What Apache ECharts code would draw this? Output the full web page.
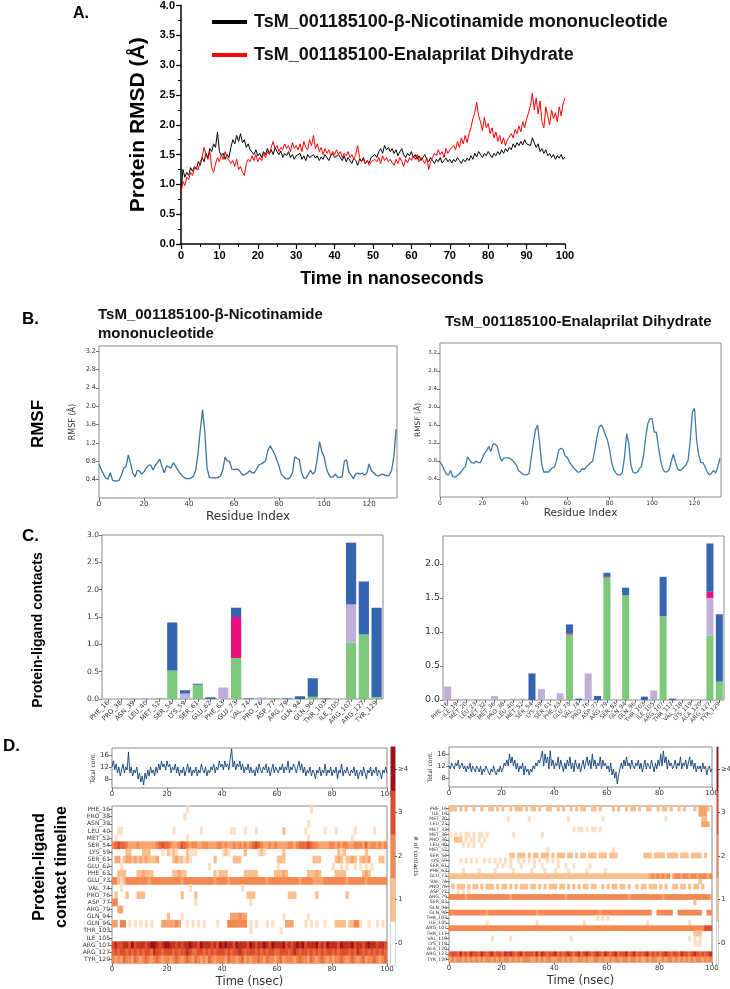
<!DOCTYPE html>
<html><head><meta charset="utf-8">
<script src="https://cdn.jsdelivr.net/npm/echarts@6.0.0/dist/echarts.min.js"></script>
<style>html,body{margin:0;padding:0;background:#fff}#c{width:730px;height:989px}</style>
</head><body><div id="c"></div>
<script>
// ---------- Panel A: protein RMSD (0.5 ns sampling) ----------
const rmsdStepNs = 0.5;
const rmsdNMN = [0.85,1.25,1.12,1.2,1.15,1.28,1.22,1.3,1.25,1.38,1.32,
1.45,1.38,1.52,1.45,1.6,1.55,1.68,1.62,1.88,1.55,
1.48,1.52,1.42,1.5,1.45,1.62,1.75,1.68,1.82,1.72,
1.85,1.7,1.75,1.62,1.68,1.58,1.55,1.5,1.58,1.48,
1.52,1.45,1.55,1.5,1.6,1.52,1.58,1.5,1.62,1.55,
1.5,1.56,1.45,1.52,1.48,1.55,1.45,1.5,1.42,1.48,
1.45,1.52,1.42,1.48,1.4,1.5,1.45,1.42,1.5,1.44,
1.48,1.4,1.46,1.42,1.5,1.45,1.4,1.48,1.52,1.45,
1.42,1.5,1.45,1.4,1.48,1.38,1.45,1.42,1.35,1.44,
1.4,1.32,1.42,1.38,1.45,1.35,1.4,1.36,1.45,1.42,
1.5,1.45,1.55,1.6,1.52,1.65,1.58,1.62,1.55,1.6,
1.52,1.58,1.48,1.55,1.6,1.5,1.45,1.52,1.48,1.55,
1.45,1.5,1.42,1.48,1.4,1.45,1.5,1.42,1.38,1.45,
1.4,1.35,1.42,1.38,1.45,1.36,1.4,1.44,1.38,1.42,
1.36,1.42,1.38,1.45,1.4,1.35,1.42,1.38,1.44,1.4,
1.48,1.42,1.52,1.46,1.55,1.5,1.45,1.52,1.48,1.55,
1.5,1.45,1.52,1.48,1.55,1.5,1.58,1.52,1.6,1.55,
1.62,1.58,1.68,1.62,1.7,1.65,1.72,1.66,1.75,1.68,
1.7,1.65,1.78,1.7,1.62,1.68,1.55,1.6,1.52,1.58,
1.48,1.52,1.45,1.5,1.42,1.48,1.44,1.5,1.42,1.46];
const rmsdENA = [0.85,1.05,0.98,1.12,1.08,1.2,1.15,1.28,1.3,1.25,1.38,
1.45,1.62,1.5,1.42,1.55,1.28,1.2,1.35,1.45,1.38,
1.5,1.42,1.55,1.45,1.48,1.35,1.4,1.3,1.42,1.25,
1.3,1.2,1.15,1.35,1.42,1.38,1.48,1.4,1.5,1.38,
1.45,1.4,1.52,1.45,1.55,1.5,1.62,1.72,1.6,1.65,
1.55,1.62,1.58,1.68,1.6,1.65,1.55,1.7,1.6,1.65,
1.58,1.68,1.55,1.72,1.62,1.58,1.75,1.65,1.82,1.6,
1.68,1.55,1.62,1.5,1.6,1.52,1.58,1.48,1.55,1.5,
1.58,1.5,1.55,1.45,1.52,1.48,1.55,1.45,1.5,1.42,
1.5,1.65,1.45,1.38,1.42,1.35,1.4,1.32,1.38,1.35,
1.42,1.38,1.45,1.35,1.48,1.4,1.45,1.38,1.42,1.36,
1.32,1.42,1.35,1.45,1.38,1.3,1.42,1.36,1.45,1.4,
1.48,1.42,1.5,1.38,1.45,1.4,1.35,1.45,1.25,1.38,
1.45,1.52,1.48,1.58,1.5,1.55,1.45,1.6,1.52,1.58,
1.55,1.65,1.58,1.72,1.62,1.78,1.68,1.82,1.7,1.85,
1.95,2.1,2.2,2.38,2.15,2.05,1.9,2.12,1.95,2.02,
1.85,1.95,1.78,1.88,1.72,1.82,1.68,1.78,1.65,1.75,
1.72,1.85,1.78,1.92,1.85,1.98,1.88,2.05,1.95,2.1,
2.2,2.32,2.53,2.25,2.45,2.18,2.4,2.05,1.95,2.3,
2.15,2.0,2.25,2.1,2.2,2.05,2.3,2.15,2.35,2.45];
const legendNames = ['TsM_001185100-β-Nicotinamide mononucleotide','TsM_001185100-Enalaprilat Dihydrate'];

// ---------- Panel B: RMSF per residue ----------
const rmsfNMN = [0.74,0.62,0.52,0.43,0.41,0.55,0.39,0.37,0.37,0.39,
0.5,0.65,0.68,0.94,0.76,0.54,0.46,0.6,0.59,0.52,
0.57,0.65,0.71,0.72,0.61,0.71,0.77,0.85,0.68,0.55,
0.7,0.68,0.65,0.77,0.7,0.61,0.54,0.48,0.44,0.42,
0.42,0.44,0.48,0.61,0.97,1.48,1.92,1.45,0.65,0.45,
0.44,0.44,0.44,0.45,0.48,0.61,0.89,0.81,0.8,0.63,
0.62,0.63,0.62,0.55,0.5,0.52,0.55,0.6,0.55,0.55,
0.63,0.72,0.74,0.77,0.81,1.03,1.14,1.05,0.96,0.83,
0.69,0.52,0.46,0.42,0.41,0.45,0.55,0.9,0.86,0.83,
0.55,0.43,0.44,0.52,0.6,0.52,0.57,0.87,1.23,1.01,
0.9,0.65,0.52,0.45,0.46,0.52,0.45,0.45,0.46,0.8,
0.83,0.57,0.5,0.42,0.52,0.54,0.52,0.54,0.5,0.54,
0.74,0.6,0.55,0.5,0.48,0.5,0.52,0.5,0.48,0.5,
0.6,0.9,1.5];
const rmsfENA = [0.78,0.71,0.6,0.51,0.49,0.59,0.45,0.44,0.47,0.51,
0.56,0.63,0.68,0.89,0.82,0.76,0.75,0.8,0.77,0.76,
0.86,0.97,1.03,1.12,1.01,1.18,1.17,1.12,0.93,0.8,
0.86,0.87,0.87,0.86,0.82,0.77,0.71,0.59,0.55,0.51,
0.49,0.49,0.53,0.86,1.19,1.49,1.6,1.19,0.71,0.55,
0.56,0.55,0.6,0.65,0.67,0.82,1.04,1.08,1.06,0.91,
0.88,0.78,0.71,0.65,0.6,0.55,0.56,0.63,0.61,0.67,
0.71,0.76,0.8,1.04,1.33,1.55,1.6,1.52,1.37,1.26,
1.04,0.75,0.6,0.53,0.49,0.49,0.56,0.89,1.41,1.19,
0.71,0.55,0.53,0.55,0.63,0.68,0.93,1.33,1.63,1.74,
1.74,1.44,1.44,1.12,0.82,0.63,0.56,0.56,0.6,0.78,
0.95,0.78,0.63,0.59,0.61,0.67,0.71,0.82,1.26,1.89,
1.97,1.26,0.93,0.77,0.76,0.67,0.56,0.49,0.53,0.59,
0.53,0.67,0.86];

// ---------- Panel C: protein-ligand contacts ----------
const residuesNMN = ['PHE_16','PRO_38','ASN_39','LEU_40','MET_52','SER_54','LYS_59','SER_61','GLU_62','PHE_63','GLU_73','VAL_74','PRO_76','ASP_77','ARG_79','GLN_94','GLN_96','THR_103','ILE_105','ARG_107','ARG_127','TYR_129'];
const hbondNMN       = [0,0,0,0,0.02,0.52,0,0.26,0,0,0.75,0,0,0.02,0,0,0.04,0,0,1.03,1.18,0.03];
const hydrophobicNMN = [0,0,0,0.02,0,0,0.10,0,0,0.21,0,0,0.03,0,0,0,0,0,0,0.70,0,0];
const ionicNMN       = [0,0,0,0,0,0,0,0,0,0,0.75,0,0,0,0,0,0,0,0,0,0,0];
const waterNMN       = [0,0,0,0,0,0.88,0.06,0.02,0.03,0,0.17,0.01,0,0,0.01,0.05,0.34,0.01,0,1.13,0.97,1.64];

const residuesENA = ['PHE_16','ILE_19','MET_20','LEU_23','MET_32','MET_36','PRO_38','LEU_40','MET_52','SER_54','LYS_59','SER_61','PHE_63','GLU_73','VAL_74','PRO_76','ASP_77','ARG_79','SER_83','GLN_94','GLN_96','THR_103','ILE_105','ARG_107','THR_117','VAL_118','LYS_119','ALA_120','ARG_127','TYR_129'];
const hbondENA       = [0,0,0,0,0,0,0,0,0,0,0,0,0,0.96,0,0,0,1.80,0,1.54,0,0,0,1.23,0,0,0,0,0.95,0.27];
const hydrophobicENA = [0.20,0.01,0.01,0.01,0,0.06,0,0.02,0.02,0,0.16,0,0.10,0,0,0.39,0,0,0,0,0,0,0.14,0,0,0.01,0,0,0.55,0];
const ionicENA       = [0,0,0,0,0,0,0,0,0,0,0,0,0,0.02,0,0,0,0.01,0,0,0,0,0,0,0,0,0,0,0.09,0];
const waterENA       = [0,0,0,0,0,0,0,0,0,0.39,0,0,0,0.13,0.02,0,0.06,0.06,0,0.11,0,0.05,0,0.58,0.02,0,0,0,0.71,0.99];

// ---------- Panel D: total contacts (0.5 ns sampling) ----------
const totalNMN = [12,14,11,13,10,12,9,11,13,10,12,
11,17,10,12,9,11,10,12,8,10,
7,9,6,10,8,11,9,12,10,11,
9,12,10,13,11,14,12,13,11,14,
12,13,10,12,11,13,10,12,9,11,
10,12,9,11,13,10,12,9,11,10,
12,9,11,10,13,11,10,12,9,11,
10,12,11,13,10,12,11,14,12,13,
11,14,12,13,11,15,18,12,14,11,
13,12,14,11,13,10,12,11,13,10,
12,10,11,9,12,10,13,11,10,12,
11,13,10,12,9,11,13,10,12,11,
10,12,11,13,10,12,11,14,10,12,
11,13,12,10,12,14,11,13,10,12,
9,11,10,12,9,11,10,8,11,10,
12,9,11,10,13,9,11,10,12,9,
11,10,12,8,11,10,13,9,11,10,
12,10,9,11,10,12,9,11,8,10,
11,9,12,10,8,11,10,12,9,11,
10,12,9,11,10,8,11,10,12,10];
const totalENA = [12,11,13,12,11,13,12,14,11,12,13,
11,12,10,12,11,13,10,12,11,10,
12,11,10,12,9,11,10,12,11,10,
9,11,10,12,10,9,11,10,12,10,
11,13,12,14,12,16,13,15,12,14,
11,13,10,12,11,13,9,12,10,11,
9,11,10,12,11,13,12,14,13,15,
17,12,16,13,15,11,17,12,14,11,
13,12,15,11,14,12,10,13,11,14,
12,15,11,13,10,14,12,11,13,10,
12,14,11,13,15,12,14,11,16,12,
14,11,13,12,15,11,14,12,13,11,
12,10,13,9,11,8,10,6,9,11,
13,11,14,12,15,12,13,11,14,12,
11,13,12,14,11,13,10,12,14,11,
13,12,11,14,12,10,13,11,14,12,
16,12,17,13,15,11,14,12,13,11,
12,14,11,13,12,15,11,13,12,14,
11,13,15,12,14,11,13,10,12,11,
12,10,13,11,12,9,11,12,10,11];

// Contact timeline: one char per 1 ns bin, digit = 2 x number of contacts
const timelineNMN = [
"0000000000 0000000000 0000000100 0000000000 0000000000 0000000000 0000000000 0010000000 0000000000 0000000000",
"0000000000 0000000000 0000001000 0000000000 0000000000 0000000000 0000000000 0000000000 0000000000 0000000000",
"0000000000 0000000000 0000000000 0000000000 0000000000 0000000000 0000000000 0100000000 0000000000 0000000000",
"0011000000 0000000000 0010000000 0010000000 0001100010 0010000000 0020000000 1000000100 0100000010 0000010000",
"0100000000 0000000000 0000000100 0000000000 0000000000 0000000000 0000000000 0100000000 0000000100 0000000000",
"4565543334 3333334565 5433465434 4334433344 3433434343 4565433434 3333443455 5654433334 4343443344 4353443434",
"0000022000 0222000010 2121000211 1000000000 1210000020 0001210000 0020000000 0000000000 0021200000 0020000000",
"0330233232 3232223000 0023221210 0000000200 0000222000 0000000000 2220000000 0002220000 0232022320 2323000220",
"0001000000 0000000000 0000000000 0000010000 0000000000 0000000000 1000000000 0000000000 1001010010 1010100000",
"0022200002 2322200000 0022322000 0000000212 2200000022 2220000002 2232000000 0222320000 0222200000 0232000000",
"4421244444 4443444444 4444434444 4444444344 4434444444 4444443444 4444444434 4443333444 4444434444 4434444444",
"0001000000 0000000000 0000000010 0000000000 0000000100 0000000000 0000000000 0000000000 0000000000 0000000000",
"0200020002 2200000000 0000020000 2000000000 0000000002 2200000000 0000222000 0000200000 0000020000 0000000000",
"4400000000 0000000000 0000000000 1000000000 0000000000 1000000000 0000000000 0000000000 0000000000 0000000000",
"0033000000 0000000000 0000000000 0000000000 0000000000 0000000000 0000000000 0000000000 0000000000 0000000000",
"0000000000 0000000000 2000010000 0000000000 0003334330 0000000000 0010000000 0100000000 0000000000 0000000000",
"3304401010 1010100033 3334300101 0101000010 0044444440 1010001010 0003330000 1010100100 0222202244 1001001010",
"0000000000 0000000000 0000000000 0000000000 0000000000 1000000000 0100000000 0000000000 0000000000 0000000000",
"0000000000 0000000000 0000000000 0000000000 0000000000 0000000000 0000000000 0000000000 0000000000 0000000000",
"6766776867 7767887678 8776767787 7687776768 7877687776 8767787687 7786767878 6777867687 7768777867 7678776776",
"5656656565 6566576656 6656566765 5665656566 6565667656 6656565665 5666567656 6565656566 5656665657 6565656565",
"4343544354 3454345434 4345434543 5434354344 4354434534 3445435443 4534443454 4354345434 3445434543 4534454345"
];
const timelineENA = [
"2220202002 0020022020 2002022202 0220200220 0202002020 2200220200 0020200202 2020022002 0220200202 0002033320",
"0000000000 0000000000 0000000000 0000000000 0000000000 0000000000 0000000000 0000000000 0000000000 0000033300",
"0000000000 0000000000 0010000000 1000000000 0000010000 0000000010 0000000000 0000000000 0010000000 0000002200",
"0000000000 0000000000 0000000000 0000000000 0000000000 0000000000 0000000000 0000000000 0000000000 0000003330",
"0000000000 0000000000 0000000000 0000000000 0000000101 1010110100 0000000000 0000000000 0000000000 0000000000",
"1010101101 0110100000 0000100000 0000010000 0000000000 0000000000 0000000000 0000000000 0000000000 0000000000",
"0022201011 0101000000 0000000000 0000000000 0000000000 0000000000 0000000000 0000000000 0000000000 0000000000",
"0000010101 0010000000 0000000000 0000000000 0000000000 0000000000 0000000000 0000000000 0000000000 0000000000",
"0000000000 0000000000 0000000000 0000000100 0000000000 0000000000 0010000000 0000000000 0000000000 0000000000",
"0000000000 0000000000 0002202220 2022022202 0222022020 2202220222 0222000000 0000222022 2202222022 2022220200",
"0000101010 1001010101 0101001010 1010100101 0100000000 0000000000 0000000000 0000000000 0000000000 0000000000",
"0000000000 0000000010 1001000100 0010010000 0100100100 0001000000 0000000000 0000000000 0000000000 0000000000",
"0000010000 0100000100 0000100000 0100001000 1000010000 0010000001 0000000000 0000000000 0000000000 0000000000",
"2222222222 2222222222 2222222222 2222222222 2222222222 2222222222 2222222222 2222223434 3434034434 4344344434",
"0000000000 0000000000 0000000000 0000000000 0000000000 0000000000 0000000000 0000000000 0000000000 0000020000",
"0202220202 2020222020 2202020222 0220202022 2022020202 0220220020 2022022020 0202202220 2020022022 0202202000",
"0001010100 0000000000 0000000000 0000000000 0000000000 0000000000 0000000000 0000000000 0000000000 0000000000",
"4444443444 4444444444 4443444444 4444444444 4444344444 4444444444 4444444434 4444444444 4344444444 4444444443",
"0000000000 0000000000 0000000000 0000000000 0000000000 0000000000 0000000000 0000000000 0000000000 0002000000",
"0000000000 0000000000 0000000000 0000000000 0000000000 0000000000 0000000000 0000000000 0000000000 0000000000",
"4444444444 4444344444 4444444444 4443444444 4444444444 4444444344 4444444444 4444444004 4444400444 4444440044",
"0000000000 0000000000 0000000000 0000000000 0000000000 0000001010 1000000000 0000000000 0000000000 0000000000",
"0000000000 0000100000 0000000000 0001000000 0000000000 0100000000 0000000000 0000010000 0000000000 0100000000",
"4444444444 4444444444 4444444444 4444444444 4444444444 4444444444 4444444444 4444444444 4444444444 4444444666",
"0000000000 0000000000 0000000000 0000000000 0000000000 0000000000 0000000000 0000000000 0000000000 0002220000",
"0000000000 0000001000 0001000000 0000000000 0000001000 0000000000 0000000000 0000000000 0000000000 0101010000",
"0000000000 0000000000 0000000000 0000000000 0000000000 0000000000 0000000000 0000000000 0000000000 0001110000",
"0000000000 0000000000 0000000000 0000000000 0000000000 0000000000 0000000000 0000000000 0000000000 0000000000",
"5665756576 6576567566 5767656756 6657576566 7565676567 5676567657 6567566756 7565675656 5676566576 6567656567",
"3434434343 4343443434 3443434344 4334343443 3443434334 4343344343 3434434434 4343343443 3434434343 4343443434"
];
const contactLevels = ['0','1','2','3','≥4'];
const contactColors = ['#ffffff','#fcbf8c','#f4874f','#de4d2c','#9e1214'];
const interactionColors = {hbond:'#7dc97b', hydrophobic:'#bfaed8', ionic:'#e8107c', water:'#3565b0'};

// ---------- helpers ----------
const timeBins = timelineNMN[0].replace(/\s/g,'').split('').map((_, i) => String(i));
function decodeTimeline(rows){
  const out = [];
  rows.forEach((s, r) => {
    const d = s.replace(/\s/g,'');
    for (let i = 0; i < d.length; i++) { const v = Number(d[i]) / 2; if (v > 0) out.push([i, r, v]); }
  });
  return out;
}
const withTime = (arr) => arr.map((v, i) => [i * rmsdStepNs, v]);
const withIndex = (arr) => arr.map((v, i) => [i, v]);
const MPL = 'DejaVu Sans', ARIAL = 'Liberation Sans';
const frame = {show:true, borderColor:'#8a8a8a', borderWidth:1, backgroundColor:'transparent'};
const lab = (size, extra) => Object.assign({fontSize:size, color:'#333', fontFamily:MPL, margin:3}, extra || {});
const tick = {show:true, length:3, lineStyle:{color:'#555', width:0.8}};
const f1 = v => v.toFixed(1);

const chart = echarts.init(document.getElementById('c'), null, {renderer:'canvas'});
const option = {
  animation:false,
  backgroundColor:'#fff',
  legend:{
    data:legendNames, orient:'vertical', left:207, top:8, itemWidth:35, itemHeight:4, itemGap:15,
    icon:'rect', selectedMode:false,
    textStyle:{fontSize:18, fontWeight:'bold', fontFamily:ARIAL, color:'#111', padding:[0,0,0,2]}
  },
  grid:[
    {left:181, top:5, width:384, height:239},
    Object.assign({left:99, top:346, width:298, height:152}, frame),
    Object.assign({left:440, top:343, width:281, height:154}, frame),
    Object.assign({left:102, top:535, width:281, height:164}, frame),
    Object.assign({left:443, top:536, width:281, height:164}, frame),
    Object.assign({left:112, top:748, width:275, height:40}, frame),
    Object.assign({left:112, top:806, width:275, height:157}, frame),
    Object.assign({left:391, top:747, width:4, height:218}, frame),
    Object.assign({left:449, top:747, width:263, height:40}, frame),
    Object.assign({left:449, top:806, width:263, height:156}, frame),
    Object.assign({left:717, top:747, width:4, height:218}, frame)
  ],
  visualMap:{type:'continuous', show:false, min:0, max:4, seriesIndex:[13,14,16,17], inRange:{color:contactColors}},
  xAxis:[
    // 0 A
    {gridIndex:0, type:'value', min:0, max:100, interval:10, position:'bottom',
     axisLine:{lineStyle:{color:'#000', width:1.5}}, axisTick:{length:5, lineStyle:{color:'#000', width:1.2}},
     minorTick:{show:true, splitNumber:2, length:3, lineStyle:{color:'#000'}}, splitLine:{show:false},
     axisLabel:{fontSize:11, fontWeight:'bold', fontFamily:ARIAL, color:'#000', margin:6},
     name:'Time in nanoseconds', nameLocation:'middle', nameGap:26,
     nameTextStyle:{fontSize:18, fontWeight:'bold', fontFamily:ARIAL, color:'#000', padding:[0,0,0,38]}},
    // 1 B1
    {gridIndex:1, type:'value', min:0, max:132.4, interval:20, position:'bottom', axisLine:{show:false}, axisTick:tick, splitLine:{show:false},
     axisLabel:lab(7, {showMaxLabel:false}), name:'Residue Index', nameLocation:'middle', nameGap:13,
     nameTextStyle:{fontSize:12, fontFamily:MPL, color:'#333'}},
    // 2 B2
    {gridIndex:2, type:'value', min:0, max:132.5, interval:20, position:'bottom', axisLine:{show:false}, axisTick:tick, splitLine:{show:false},
     axisLabel:lab(6, {showMaxLabel:false}), name:'Residue Index', nameLocation:'middle', nameGap:11,
     nameTextStyle:{fontSize:10.5, fontFamily:MPL, color:'#333'}},
    // 3 C1
    {gridIndex:3, type:'category', data:residuesNMN, position:'bottom', axisLine:{show:false}, axisTick:Object.assign({alignWithLabel:true}, tick),
     axisLabel:lab(6.5, {rotate:45, interval:0})},
    // 4 C2
    {gridIndex:4, type:'category', data:residuesENA, position:'bottom', axisLine:{show:false}, axisTick:Object.assign({alignWithLabel:true}, tick),
     axisLabel:lab(5.8, {rotate:45, interval:0})},
    // 5 D1 top
    {gridIndex:5, type:'value', min:0, max:100, interval:20, position:'bottom', axisLine:{show:false}, axisTick:tick, splitLine:{show:false},
     axisLabel:lab(7)},
    // 6 D1 heat (bins)
    {gridIndex:6, type:'category', data:timeBins, position:'bottom', show:false},
    // 7 D1 heat time labels
    {gridIndex:6, type:'value', min:0, max:100, interval:20, position:'bottom', offset:0, axisLine:{show:false}, axisTick:tick, splitLine:{show:false},
     axisLabel:lab(7), name:'Time (nsec)', nameLocation:'middle', nameGap:13,
     nameTextStyle:{fontSize:11.5, fontFamily:MPL, color:'#333'}},
    // 8 D1 colorbar
    {gridIndex:7, type:'category', data:['cb'], position:'bottom', show:false},
    // 9 D2 top
    {gridIndex:8, type:'value', min:0, max:100, interval:20, position:'bottom', axisLine:{show:false}, axisTick:tick, splitLine:{show:false},
     axisLabel:lab(7)},
    // 10 D2 heat bins
    {gridIndex:9, type:'category', data:timeBins, position:'bottom', show:false},
    // 11 D2 heat time labels
    {gridIndex:9, type:'value', min:0, max:100, interval:20, position:'bottom', offset:0, axisLine:{show:false}, axisTick:tick, splitLine:{show:false},
     axisLabel:lab(7), name:'Time (nsec)', nameLocation:'middle', nameGap:13,
     nameTextStyle:{fontSize:11.5, fontFamily:MPL, color:'#333'}},
    // 12 D2 colorbar
    {gridIndex:10, type:'category', data:['cb'], position:'bottom', show:false}
  ],
  yAxis:[
    // 0 A
    {gridIndex:0, type:'value', min:0, max:4, interval:0.5,
     axisLine:{show:true, lineStyle:{color:'#000', width:1.5}}, axisTick:{show:true, length:5, lineStyle:{color:'#000', width:1.2}},
     minorTick:{show:true, splitNumber:2, length:3, lineStyle:{color:'#000'}}, splitLine:{show:false},
     axisLabel:{fontSize:11, fontWeight:'bold', fontFamily:ARIAL, color:'#000', formatter:f1, margin:6},
     name:'Protein RMSD (Å)', nameLocation:'middle', nameRotate:90, nameGap:31,
     nameTextStyle:{fontSize:21, fontWeight:'bold', fontFamily:ARIAL, color:'#000'}},
    // 1 B1
    {gridIndex:1, type:'value', min:0, max:3.31, interval:0.4, axisLine:{show:false}, axisTick:tick, splitLine:{show:false},
     axisLabel:lab(6.5, {showMinLabel:false, showMaxLabel:false, formatter:f1}),
     name:'RMSF (Å)', nameLocation:'middle', nameRotate:90, nameGap:22, nameTextStyle:{fontSize:8, fontFamily:MPL, color:'#333'}},
    // 2 B2
    {gridIndex:2, type:'value', min:0, max:3.42, interval:0.4, axisLine:{show:false}, axisTick:tick, splitLine:{show:false},
     axisLabel:lab(5.5, {showMinLabel:false, showMaxLabel:false, formatter:f1}),
     name:'RMSF (Å)', nameLocation:'middle', nameRotate:90, nameGap:18, nameTextStyle:{fontSize:7.5, fontFamily:MPL, color:'#333'}},
    // 3 C1
    {gridIndex:3, type:'value', min:0, max:3, interval:0.5, axisLine:{show:false}, axisTick:tick, splitLine:{show:false},
     axisLabel:lab(7.5, {formatter:f1})},
    // 4 C2
    {gridIndex:4, type:'value', min:0, max:2.41, interval:0.5, axisLine:{show:false}, axisTick:tick, splitLine:{show:false},
     axisLabel:lab(9.5, {formatter:f1, showMaxLabel:false})},
    // 5 D1 top
    {gridIndex:5, type:'value', min:5, max:18.3, axisLine:{show:false}, splitLine:{show:false},
     axisTick:Object.assign({customValues:[8,12,16]}, tick),
     axisLabel:lab(7, {customValues:[8,12,16]}),
     name:'Total cont.', nameLocation:'middle', nameRotate:90, nameGap:13, nameTextStyle:{fontSize:6, fontFamily:MPL, color:'#333'}},
    // 6 D1 heat rows
    {gridIndex:6, type:'category', data:residuesNMN, inverse:true, axisLine:{show:false},
     axisTick:Object.assign({alignWithLabel:true}, tick), axisLabel:lab(6, {interval:0, margin:2})},
    // 7 D1 colorbar
    {gridIndex:7, type:'category', data:contactLevels, position:'right', axisLine:{show:false},
     axisTick:{show:true, alignWithLabel:true, length:2, lineStyle:{color:'#555'}}, axisLabel:lab(7, {margin:3}),
     name:'# of contacts', nameLocation:'middle', nameRotate:-90, nameGap:9, nameTextStyle:{fontSize:6, fontFamily:MPL, color:'#333'}},
    // 8 D2 top
    {gridIndex:8, type:'value', min:5, max:18.3, axisLine:{show:false}, splitLine:{show:false},
     axisTick:Object.assign({customValues:[8,12,16]}, tick),
     axisLabel:lab(7, {customValues:[8,12,16]}),
     name:'Total cont.', nameLocation:'middle', nameRotate:90, nameGap:13, nameTextStyle:{fontSize:6, fontFamily:MPL, color:'#333'}},
    // 9 D2 heat rows
    {gridIndex:9, type:'category', data:residuesENA, inverse:true, axisLine:{show:false},
     axisTick:Object.assign({alignWithLabel:true}, tick), axisLabel:lab(4.6, {interval:0, margin:2})},
    // 10 D2 colorbar
    {gridIndex:10, type:'category', data:contactLevels, position:'right', axisLine:{show:false},
     axisTick:{show:true, alignWithLabel:true, length:2, lineStyle:{color:'#555'}}, axisLabel:lab(7, {margin:3}),
     name:'# of contacts', nameLocation:'middle', nameRotate:-90, nameGap:9, nameTextStyle:{fontSize:6, fontFamily:MPL, color:'#333'}}
  ],
  series:[
    // 0,1 A
    {name:legendNames[0], type:'line', xAxisIndex:0, yAxisIndex:0, data:withTime(rmsdNMN), showSymbol:false,
     lineStyle:{color:'#000', width:1}, itemStyle:{color:'#000'}},
    {name:legendNames[1], type:'line', xAxisIndex:0, yAxisIndex:0, data:withTime(rmsdENA), showSymbol:false,
     lineStyle:{color:'#f00', width:1}, itemStyle:{color:'#f00'}},
    // 2,3 B
    {type:'line', xAxisIndex:1, yAxisIndex:1, data:withIndex(rmsfNMN), showSymbol:false, lineStyle:{color:'#3b74a0', width:1.3}},
    {type:'line', xAxisIndex:2, yAxisIndex:2, data:withIndex(rmsfENA), showSymbol:false, lineStyle:{color:'#3b7bae', width:1.3}},
    // 4-7 C1
    {name:'H-bonds', type:'bar', stack:'c1', xAxisIndex:3, yAxisIndex:3, data:hbondNMN, barCategoryGap:'20%', itemStyle:{color:interactionColors.hbond}},
    {name:'Hydrophobic', type:'bar', stack:'c1', xAxisIndex:3, yAxisIndex:3, data:hydrophobicNMN, itemStyle:{color:interactionColors.hydrophobic}},
    {name:'Ionic', type:'bar', stack:'c1', xAxisIndex:3, yAxisIndex:3, data:ionicNMN, itemStyle:{color:interactionColors.ionic}},
    {name:'Water bridges', type:'bar', stack:'c1', xAxisIndex:3, yAxisIndex:3, data:waterNMN, itemStyle:{color:interactionColors.water}},
    // 8-11 C2
    {name:'H-bonds', type:'bar', stack:'c2', xAxisIndex:4, yAxisIndex:4, data:hbondENA, barCategoryGap:'25%', itemStyle:{color:interactionColors.hbond}},
    {name:'Hydrophobic', type:'bar', stack:'c2', xAxisIndex:4, yAxisIndex:4, data:hydrophobicENA, itemStyle:{color:interactionColors.hydrophobic}},
    {name:'Ionic', type:'bar', stack:'c2', xAxisIndex:4, yAxisIndex:4, data:ionicENA, itemStyle:{color:interactionColors.ionic}},
    {name:'Water bridges', type:'bar', stack:'c2', xAxisIndex:4, yAxisIndex:4, data:waterENA, itemStyle:{color:interactionColors.water}},
    // 12 D1 top
    {type:'line', xAxisIndex:5, yAxisIndex:5, data:withTime(totalNMN), showSymbol:false, lineStyle:{color:'#0d3f78', width:0.9}},
    // 13 D1 heat
    {type:'heatmap', xAxisIndex:6, yAxisIndex:6, data:decodeTimeline(timelineNMN), progressive:0},
    // 14 D1 colorbar
    {type:'heatmap', xAxisIndex:8, yAxisIndex:7, data:contactLevels.map((l, i) => [0, i, i])},
    // 15 D2 top
    {type:'line', xAxisIndex:9, yAxisIndex:8, data:withTime(totalENA), showSymbol:false, lineStyle:{color:'#0d3f78', width:0.9}},
    // 16 D2 heat
    {type:'heatmap', xAxisIndex:10, yAxisIndex:9, data:decodeTimeline(timelineENA), progressive:0},
    // 17 D2 colorbar
    {type:'heatmap', xAxisIndex:12, yAxisIndex:10, data:contactLevels.map((l, i) => [0, i, i])}
  ],
  graphic:[
    {type:'text', x:73, y:6, style:{text:'A.', fontSize:16, fontWeight:'bold', fontFamily:ARIAL, fill:'#000'}},
    {type:'text', x:22, y:311, style:{text:'B.', fontSize:17, fontWeight:'bold', fontFamily:ARIAL, fill:'#000'}},
    {type:'text', x:98, y:305, style:{text:'TsM_001185100-β-Nicotinamide\nmononucleotide', fontSize:15, lineHeight:19, fontWeight:'bold', fontFamily:ARIAL, fill:'#111'}},
    {type:'text', x:445, y:314, style:{text:'TsM_001185100-Enalaprilat Dihydrate', fontSize:15, fontWeight:'bold', fontFamily:ARIAL, fill:'#111'}},
    {type:'text', x:38, y:424, rotation:Math.PI/2, style:{text:'RMSF', fontSize:17, fontWeight:'bold', fontFamily:ARIAL, fill:'#000', align:'center', verticalAlign:'middle'}},
    {type:'text', x:22, y:528, style:{text:'C.', fontSize:17, fontWeight:'bold', fontFamily:ARIAL, fill:'#000'}},
    {type:'text', x:38, y:630, rotation:Math.PI/2, style:{text:'Protein-ligand contacts', fontSize:14, fontWeight:'bold', fontFamily:ARIAL, fill:'#000', align:'center', verticalAlign:'middle'}},
    {type:'text', x:3, y:738, style:{text:'D.', fontSize:17, fontWeight:'bold', fontFamily:ARIAL, fill:'#000'}},
    {type:'text', x:51, y:867, rotation:Math.PI/2, style:{text:'Protein-ligand\ncontact timeline', fontSize:16, lineHeight:22, fontWeight:'bold', fontFamily:ARIAL, fill:'#000', align:'center', verticalAlign:'middle'}}
  ]
};
chart.setOption(option);
</script>
</body></html>
